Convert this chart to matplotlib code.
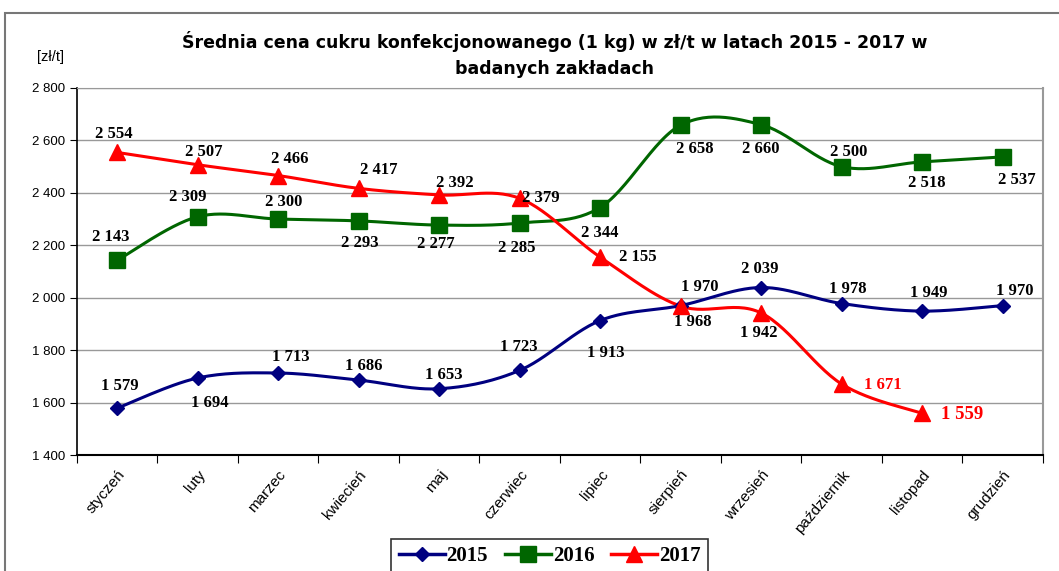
import matplotlib
matplotlib.use("Agg")
import matplotlib.pyplot as plt
import numpy as np
from matplotlib.patches import Rectangle
from matplotlib.ticker import FuncFormatter

months = ["styczeń", "luty", "marzec", "kwiecień", "maj", "czerwiec", "lipiec",
          "sierpień", "wrzesień", "październik", "listopad", "grudzień"]
y2015 = [1579, 1694, 1713, 1686, 1653, 1723, 1913, 1970, 2039, 1978, 1949, 1970]
y2016 = [2143, 2309, 2300, 2293, 2277, 2285, 2344, 2658, 2660, 2500, 2518, 2537]
y2017 = [2554, 2507, 2466, 2417, 2392, 2379, 2155, 1968, 1942, 1671, 1559]

# label offsets in pixels (dx, dy) relative to the point
off2015 = [(3, 22), (12, -25), (13, 16), (5, 14), (5, 14), (-1, 23), (6, -32),
           (19, 19), (-1, 19), (6, 15), (7, 18), (12, 15)]
off2016 = [(-6, 23), (-10, 20), (5, 17), (1, -22), (-3, -19), (-3, -25), (0, -25),
           (14, -24), (0, -24), (7, 15), (5, -21), (14, -23)]
off2017 = [(-3, 18), (6, 13), (12, 17), (20, 18), (16, 12), (21, 0), (38, 0),
           (12, -16), (-2, -20), (41, -1), (40, -1)]


def smooth(y, n=30):
    # Bezier smoothing similar to spreadsheet "smoothed line"
    x = np.arange(len(y), dtype=float)
    y = np.asarray(y, dtype=float)
    xs, ys = [], []
    for i in range(len(y) - 1):
        x0, y0 = x[max(i - 1, 0)], y[max(i - 1, 0)]
        x3, y3 = x[min(i + 2, len(y) - 1)], y[min(i + 2, len(y) - 1)]
        p1 = (x[i] + (x[i + 1] - x0) / 6, y[i] + (y[i + 1] - y0) / 6)
        p2 = (x[i + 1] - (x3 - x[i]) / 6, y[i + 1] - (y3 - y[i]) / 6)
        t = np.linspace(0, 1, n)
        bx = (1-t)**3*x[i] + 3*(1-t)**2*t*p1[0] + 3*(1-t)*t**2*p2[0] + t**3*x[i+1]
        by = (1-t)**3*y[i] + 3*(1-t)**2*t*p1[1] + 3*(1-t)*t**2*p2[1] + t**3*y[i+1]
        xs.extend(bx)
        ys.extend(by)
    return xs, ys


def fmt(v):
    return f"{int(v):,}".replace(",", " ")


fig = plt.figure(figsize=(10.59, 5.71), dpi=100)
ax = fig.add_axes([0.0727, 0.203, 0.912, 0.643])

series = [
    ("2015", y2015, "#000080", "D", 7, off2015),
    ("2016", y2016, "#006600", "s", 11, off2016),
    ("2017", y2017, "#ff0000", "^", 11, off2017),
]
handles = []
for name, ys, col, mk, ms, offs in series:
    sx, sy = smooth(ys)
    ax.plot(sx, sy, color=col, lw=2.2, zorder=3)
    ax.plot(range(len(ys)), ys, linestyle="None", color=col, marker=mk,
            markersize=ms, markeredgecolor=col, zorder=4)
    handles.append(ax.plot([], [], color=col, lw=2.5, marker=mk, markersize=ms)[0])
    for i, v in enumerate(ys):
        dx, dy = offs[i]
        red = name == "2017" and i >= 9
        ax.annotate(fmt(v), (i, v), xytext=(dx, dy), textcoords="offset pixels",
                    ha="center", va="center", family="Liberation Serif",
                    fontweight="bold", fontsize=13.5 if i == 10 and red else 12,
                    color="#ff0000" if red else "black", zorder=5)

ax.set_xlim(-0.5, 11.5)
ax.set_ylim(1400, 2800)
ax.set_yticks(range(1400, 2801, 200))
ax.yaxis.set_major_formatter(FuncFormatter(lambda v, p: fmt(v)))
ax.set_xticks(np.arange(-0.5, 11.6, 1))
ax.set_xticklabels([])
ax.set_xticks(range(12), minor=True)
ax.set_xticklabels(months, minor=True, rotation=50, ha="right",
                   rotation_mode="anchor", family="Liberation Sans", fontsize=11)
ax.tick_params(axis="x", which="minor", length=0, pad=9)
ax.tick_params(axis="x", which="major", length=6, color="black")
ax.tick_params(axis="y", length=5, labelsize=9.5)
for lab in ax.get_yticklabels():
    lab.set_family("Liberation Sans")
ax.grid(axis="y", color="#999999", lw=1)
ax.set_axisbelow(True)
ax.spines["top"].set_color("#999999")
ax.spines["right"].set_color("#999999")
ax.spines["right"].set_linewidth(1.5)
ax.spines["left"].set_linewidth(1.2)
ax.spines["bottom"].set_linewidth(1.5)

fig.text(0.524, 0.927, "Średnia cena cukru konfekcjonowanego (1 kg) w zł/t w latach 2015 - 2017 w",
         ha="center", va="center", fontsize=12.5, fontweight="bold")
fig.text(0.524, 0.88, "badanych zakładach", ha="center", va="center",
         fontsize=12.5, fontweight="bold")
fig.text(0.048, 0.9, "[zł/t]", ha="center", va="center", fontsize=10.5,
         family="Liberation Sans")

leg = fig.legend(handles, ["2015", "2016", "2017"], loc="upper center",
                 bbox_to_anchor=(0.519, 0.074), ncol=3, frameon=True,
                 prop={"family": "Liberation Serif", "weight": "bold", "size": 15},
                 handlelength=2.2, handletextpad=0.1, columnspacing=0.8,
                 fancybox=False, edgecolor="black", borderpad=0.35)
leg.get_frame().set_linewidth(1.2)

fig.patches.append(Rectangle((0.005, -0.1), 1.2, 1.1 - 13 / 571,
                             transform=fig.transFigure, fill=False,
                             edgecolor="#777777", lw=1.5))

fig.savefig("out.png", dpi=100)
